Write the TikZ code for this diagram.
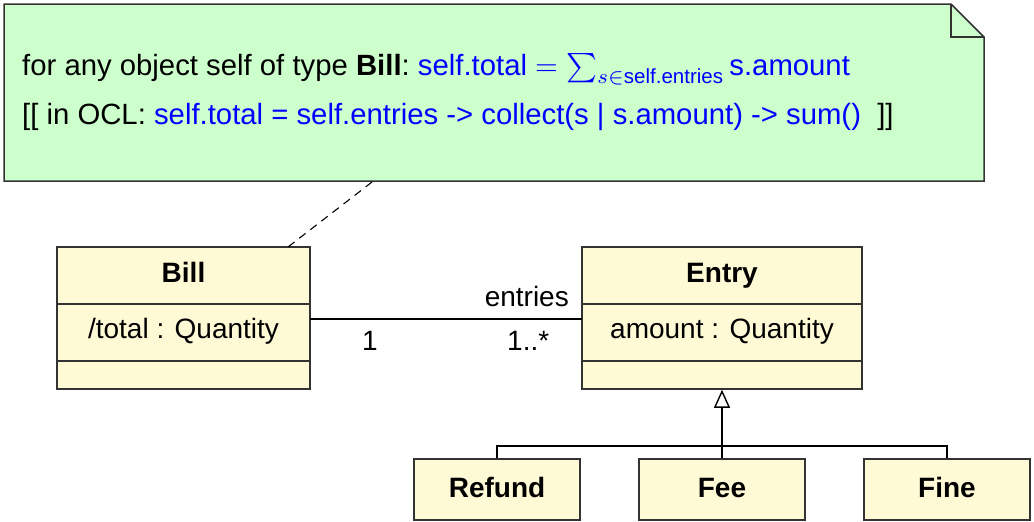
\documentclass[tikz,border=0pt]{standalone}
\usepackage{amsmath}
\usepackage{graphicx}
\usepackage[no-math]{fontspec}
\setmainfont{Liberation Sans}
\usetikzlibrary{arrows.meta,calc}
\definecolor{notefill}{RGB}{204,255,204}
\definecolor{classfill}{RGB}{255,250,214}
\definecolor{classline}{RGB}{51,51,51}
\definecolor{oclblue}{RGB}{0,0,255}
\tikzset{
  classbox/.style={draw=classline, fill=classfill, line width=1.5pt, inner sep=0pt, rectangle},
  divider/.style={draw=classline, line width=1.5pt},
  notetext/.style={anchor=base west, inner sep=0pt, font=\fontsize{29.3}{35}\selectfont},
  classtext/.style={anchor=base, inner sep=0pt, font=\fontsize{28}{33}\selectfont},
  classname/.style={anchor=base, inner sep=0pt, font=\fontsize{28}{33}\selectfont\bfseries},
  conn/.style={draw=black, line width=1.4pt},
}
\begin{document}
\begin{tikzpicture}[x=1pt,y=-1pt]
\useasboundingbox (0,0) rectangle (1034,522);
% note
\draw[draw=classline, fill=notefill, line width=1.5pt, line join=miter]
  (4,4) -- (951,4) -- (984,37) -- (984,181) -- (4,181) -- cycle;
\draw[draw=classline, line width=1.5pt] (951,4) -- (951,37) -- (984,37);
\node[notetext] (l1) at (22,75) {for any object self of type \textbf{Bill}:\ \textcolor{oclblue}{\scalebox{2.93}{\fontsize{10}{12}\selectfont$\text{self.total} = \sum_{s\in\text{self.entries}} \text{s.amount}$}}};
\node[notetext] (l2) at (22,124) {[[ in OCL: \textcolor{oclblue}{self.total = self.entries -> collect(s | s.amount) -> sum()}\ \ ]]};
\coordinate (notefoot) at (372,182);
% Bill
\node[classbox, minimum width=253pt, minimum height=142pt] (bill) at (183.5,318) {};
\draw[divider] (bill.west |- 0,304) -- (bill.east |- 0,304);
\draw[divider] (bill.west |- 0,361) -- (bill.east |- 0,361);
\node[classname] (billname) at (183.5,282) {Bill};
\node[classtext] (billattr) at (183.5,338) {/total : Quantity};
% Entry
\node[classbox, minimum width=280pt, minimum height=142pt] (entry) at (722,318) {};
\draw[divider] (entry.west |- 0,304) -- (entry.east |- 0,304);
\draw[divider] (entry.west |- 0,361) -- (entry.east |- 0,361);
\node[classname] (entryname) at (722,282) {Entry};
\node[classtext] (entryattr) at (722,338) {amount : Quantity};
% subclasses
\node[classbox, minimum width=166pt, minimum height=61pt] (refund) at (497,489.5) {};
\node[classname] at (refund.center |- 0,497) {Refund};
\node[classbox, minimum width=166pt, minimum height=61pt] (fee) at (722,489.5) {};
\node[classname] at (fee.center |- 0,497) {Fee};
\node[classbox, minimum width=166pt, minimum height=61pt] (fine) at (947,489.5) {};
\node[classname] at (fine.center |- 0,497) {Fine};
% note link
\coordinate (billtop) at (288,247);
\draw[conn, line width=1.1pt, dash pattern=on 8pt off 6pt] (notefoot) -- (billtop);
% association
\coordinate (assocL) at (310,319);
\coordinate (assocR) at (582,319);
\draw[conn] (assocL) -- (assocR);
\node[classtext, anchor=base east] (rolename) at (569,306) {entries};
\node[classtext, anchor=base west] (multL) at (362,350) {1};
\node[classtext, anchor=base west] (multR) at (507,350) {1..*};
% generalization
\coordinate (genjoin) at (722,446);
\draw[conn, -{Triangle[open, width=16pt, length=18pt, line width=1.4pt]}] (fee.north) -- (entry.south);
\draw[conn] (refund.north) |- (genjoin) -| (fine.north);
\end{tikzpicture}
\end{document}
